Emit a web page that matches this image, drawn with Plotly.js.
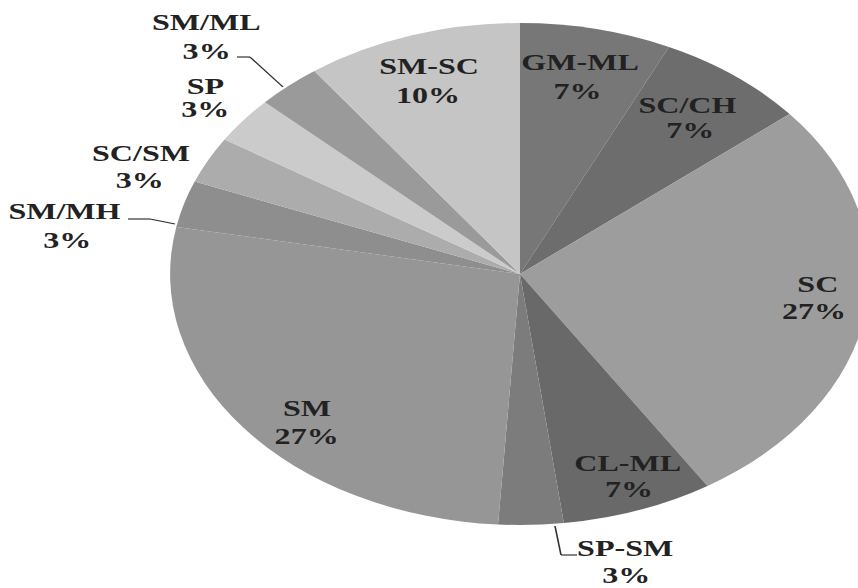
<!DOCTYPE html>
<html>
<head>
<meta charset="utf-8">
<script src="https://cdn.plot.ly/plotly-3.0.1.min.js"></script>
<style>
  html, body { margin: 0; padding: 0; background: #ffffff; overflow: hidden; }
  #frame { width: 858px; height: 588px; overflow: hidden; position: relative; }
  /* the pie is drawn round, then widened into the flattened oval */
  #chart { width: 640px; height: 588px; transform: scaleX(1.394); transform-origin: 0 0; }
</style>
</head>
<body>
<div id="frame"><div id="chart"></div></div>
<script>
// Soil classes of the samples, clockwise from 12 o'clock
const soilClasses = ['GM-ML', 'SC/CH', 'SC', 'CL-ML', 'SP-SM', 'SM', 'SM/MH', 'SC/SM', 'SP', 'SM/ML', 'SM-SC'];
// Share of samples per class (%)
const shares = [7, 7, 27, 7, 3, 27, 3, 3, 3, 3, 10];
// Grey fill of each slice
const sliceGreys = ['#777777', '#6d6d6d', '#9d9d9d', '#696969', '#7c7c7c', '#969696',
                    '#8e8e8e', '#acacac', '#cbcbcb', '#9a9a9a', '#c5c5c5'];

// Geometry of the widened page
const STRETCH = 1.394;         // horizontal widening
const W = 640, H = 588;        // unwidened chart size
const CX = 520, CY = 274, R = 251;   // pie centre and radius on the page

// Label placement on the page: [name x, name y, percent x, percent y]
const labelPlace = [
  [580, 63, 578, 92],
  [687, 105, 691, 131],
  [817, 284, 814, 311],
  [628, 463, 629, 489],
  [625, 548, 627, 575],
  [308, 408, 306, 436],
  [65, 211, 67, 240],
  [141, 154, 140, 181],
  [206, 86, 205, 110],
  [207, 23, 207, 51],
  [429, 67, 428, 95]
];
// Leader lines for the small outer labels (page coordinates)
const leaders = [
  [[237, 57], [250, 57], [283, 87]],
  [[128, 219], [150, 219], [175, 224]],
  [[555, 526], [561, 555], [577, 555]]
];

const px = x => x / STRETCH / W;
const py = y => 1 - y / H;

const total = shares.reduce((a, b) => a + b, 0);
const pctText = shares.map(v => Math.round(v / total * 100) + '%');

const textFont = { family: 'Liberation Serif, Times New Roman, serif', size: 23, color: '#222222', weight: 'bold' };

const annotations = [];
soilClasses.forEach((name, i) => {
  const p = labelPlace[i];
  annotations.push({ text: name, x: px(p[0]), y: py(p[1]), xref: 'paper', yref: 'paper',
    xanchor: 'center', yanchor: 'middle', showarrow: false, font: textFont });
  annotations.push({ text: pctText[i], x: px(p[2]), y: py(p[3]), xref: 'paper', yref: 'paper',
    xanchor: 'center', yanchor: 'middle', showarrow: false, font: textFont });
});

const shapes = [];
leaders.forEach(pts => {
  for (let k = 0; k < pts.length - 1; k++) {
    shapes.push({ type: 'line', xref: 'paper', yref: 'paper',
      x0: px(pts[k][0]), y0: py(pts[k][1]), x1: px(pts[k + 1][0]), y1: py(pts[k + 1][1]),
      line: { color: '#333333', width: 1.2 } });
  }
});

const cxU = CX / STRETCH;
const trace = {
  type: 'pie',
  labels: soilClasses,
  values: shares,
  sort: false,
  direction: 'clockwise',
  rotation: 0,
  textinfo: 'none',
  hoverinfo: 'label+percent',
  marker: { colors: sliceGreys, line: { width: 0 } },
  domain: { x: [(cxU - R) / W, (cxU + R) / W], y: [(H - CY - R) / H, (H - CY + R) / H] },
  showlegend: false
};

const layout = {
  width: W, height: H,
  margin: { l: 0, r: 0, t: 0, b: 0 },
  paper_bgcolor: '#ffffff',
  showlegend: false,
  annotations: annotations,
  shapes: shapes
};

Plotly.newPlot('chart', [trace], layout, { staticPlot: true, displayModeBar: false });
</script>
</body>
</html>
